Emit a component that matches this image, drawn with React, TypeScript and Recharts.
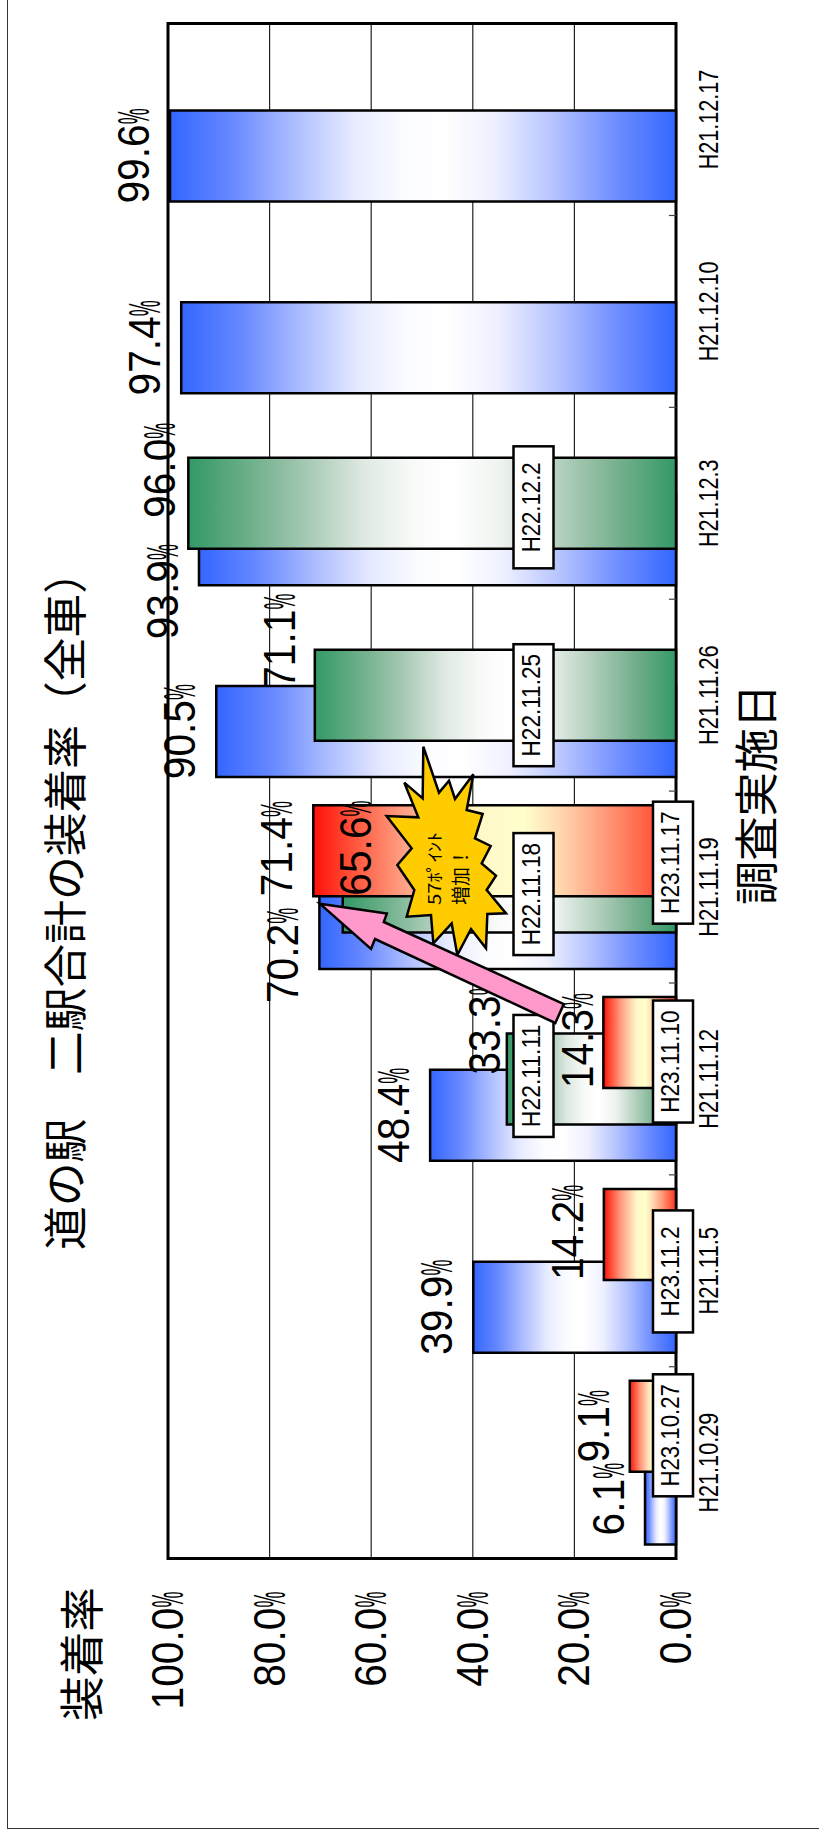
import { BarChart, Bar, XAxis, YAxis, CartesianGrid, LabelList, ReferenceArea, ReferenceLine } from 'recharts';

const PAGE_W = 819;
const PAGE_H = 1838;

const surveyDates = ['H21.10.29', 'H21.11.5', 'H21.11.12', 'H21.11.19', 'H21.11.26', 'H21.12.3', 'H21.12.10', 'H21.12.17'];
const rate2009 = [6.1, 39.9, 48.4, 70.2, 90.5, 93.9, 97.4, 99.6];
const rate2010 = [null, null, 33.3, 65.6, 71.1, 96.0, null, null];
const rate2011 = [9.1, 14.2, 14.3, 71.4, null, null, null, null];
const dates2010 = [null, null, 'H22.11.11', 'H22.11.18', 'H22.11.25', 'H22.12.2', null, null];
const dates2011 = ['H23.10.27', 'H23.11.2', 'H23.11.10', 'H23.11.17', null, null, null, null];
const rateTicks = [0, 20, 40, 60, 80, 100];

const titleText = '道の駅　二駅合計の装着率（全車）';
const rateTitle = '装着率';
const dateTitle = '調査実施日';
const calloutLines = ['57ﾎﾟｲﾝﾄ', '増加！'];

// hand placed labels in the original: shift along the band, gap above the bar end
const shift2009 = [0, 0, 0, 32, 0, 52, 0, 0];
const gap2009 = [21, 21, 21, 21, 21, 21, 21, 21];
const shift2010 = [0, 0, -52, -39, -54, -33, 0, 0];
const gap2010 = [0, 0, 7, -28, 20, 13, 0, 0];
const shift2011 = [0, -2, -2, -2, 0, 0, 0, 0];
const gap2011 = [21, 21, 10, 21, 0, 0, 0, 0];
const boxShift2010 = [0, 0, -3, 7, 10, 4, 0, 0];
const boxShift2011 = [9, 37, 19, 12, 0, 0, 0, 0];

const blueStops = [[0, '#3366ff'], [0.12, '#6688ff'], [0.24, '#aabbff'], [0.36, '#e6eaff'], [0.46, '#fbfcff'], [0.54, '#ffffff'], [0.64, '#eef0ff'], [0.76, '#b4c2ff'], [0.88, '#6f8eff'], [1, '#3366ff']];
const greenStops = [[0, '#339966'], [0.12, '#6aae88'], [0.24, '#a4c8b2'], [0.36, '#dfe9e2'], [0.46, '#f8faf8'], [0.54, '#ffffff'], [0.64, '#eef3ef'], [0.76, '#b4d0be'], [0.88, '#76b08e'], [1, '#339966']];
const redStops = [[0, '#ff1008'], [0.12, '#ff5a40'], [0.24, '#ff9c80'], [0.36, '#ffd0ac'], [0.46, '#fff8c8'], [0.58, '#ffffcc'], [0.68, '#ffd8b0'], [0.8, '#ff9c7c'], [0.9, '#ff6a4c'], [1, '#ff3020']];

const tableData = surveyDates.map((date, i) => ({
  date,
  rate2009: rate2009[i],
  rate2010: rate2010[i],
  rate2011: rate2011[i],
}));

const SANS = '"Liberation Sans", Arial, sans-serif';
const CJK = '"Noto Sans CJK JP", sans-serif';

const charUnits = (s: string) =>
  s.split('').reduce((sum, c) => sum + (c === '.' ? 0.278 : c === 'H' ? 0.722 : 0.556), 0);

// the source font has a tall, narrow look and a very thin percent sign
const PercentText = ({ x, y, digits, anchor = 'middle' }: any) => {
  const digitsW = charUnits(digits) * 40.7;
  const total = digitsW + 16;
  const start = anchor === 'end' ? x - total : x - total / 2;
  return (
    <text x={start} y={y} fontSize={45} fontFamily={SANS} fill="#000">
      <tspan textLength={digitsW} lengthAdjust="spacingAndGlyphs">{digits}</tspan>
      <tspan textLength={16} lengthAdjust="spacingAndGlyphs">%</tspan>
    </text>
  );
};

const RateTick = ({ x, y, payload }: any) => (
  <PercentText x={x} y={y + 15} digits={Number(payload.value).toFixed(1)} anchor="end" />
);

const DateTick = ({ x, payload }: any) => {
  const w = charUnits(payload.value) * 21.6;
  return (
    <text x={x - w / 2} y={718.4} fontSize={27.8} fontFamily={SANS} fill="#000" textLength={w} lengthAdjust="spacingAndGlyphs">
      {payload.value}
    </text>
  );
};

// LabelList skips empty values, so the row is found again from the value
const valueLabel = (rates: (number | null)[], shifts: number[], gaps: number[]) => (props: any) => {
  const { x, y, width, value } = props;
  if (value == null) return null;
  const row = rates.indexOf(value);
  return <PercentText x={x + width / 2 - shifts[row]} y={y - gaps[row]} digits={Number(value).toFixed(1)} />;
};

const dateBox = (rates: (number | null)[], labels: (string | null)[], shifts: number[], centerY: number) => (props: any) => {
  const { x, width, value } = props;
  const row = rates.indexOf(value);
  const text = labels[row];
  if (!text) return null;
  const cx = x + width / 2 - shifts[row];
  const w = charUnits(text) * 22.2;
  return (
    <g>
      <rect x={cx - 61} y={centerY - 20} width={122} height={40} fill="#fff" stroke="#000" strokeWidth={2.5} />
      <text x={cx - w / 2} y={centerY + 6} fontSize={26.2} fontFamily={SANS} fill="#000" textLength={w} lengthAdjust="spacingAndGlyphs">
        {text}
      </text>
    </g>
  );
};

const starPoints = [
  [160, 50], [207, 188], [237, 152], [255, 207], [310, 133], [290, 240], [338, 252], [315, 325],
  [362, 348], [335, 400], [378, 437], [350, 480], [408, 550], [352, 552], [348, 655], [303, 597],
  [262, 675], [245, 580], [190, 640], [183, 555], [110, 560], [133, 480], [82, 405], [125, 355],
  [50, 258], [145, 262], [103, 158], [158, 205],
].map(([px, py]) => `${370 + px / 3},${730 + py / 3}`).join(' ');

const arrowPoints = '319.8,903.7 386.8,913.6 383.8,922 563.8,1004 555.3,1023 375,939 371,949';

const UprightText = ({ x, y, size, length, font = CJK, children }: any) => (
  <text
    transform={`translate(${x},${y}) rotate(-90)`}
    fontSize={size}
    fontFamily={font}
    fill="#000"
    textLength={length}
    lengthAdjust="spacingAndGlyphs"
  >
    {children}
  </text>
);

const BarGradient = ({ id, stops }: any) => (
  <linearGradient id={id} x1="0" y1="0" x2="0" y2="1">
    {stops.map(([offset, color]: any) => (
      <stop key={offset} offset={offset} stopColor={color} />
    ))}
  </linearGradient>
);

const App = () => {
  return (
    <div style={{ position: 'absolute', left: 0, top: 0, width: PAGE_W, height: PAGE_H, overflow: 'hidden', background: '#fff' }}>
      <div style={{ position: 'absolute', left: 7, top: -10, width: 900, height: 1838, borderLeft: '1.5px solid #333', borderBottom: '1.5px solid #333' }} />
      <div
        style={{
          position: 'absolute',
          left: 0,
          top: 0,
          width: PAGE_H,
          height: PAGE_W,
          transformOrigin: '0 0',
          transform: `translate(0px, ${PAGE_H}px) rotate(-90deg)`,
        }}
      >
        <BarChart
          width={PAGE_H}
          height={PAGE_W}
          data={tableData}
          barSize={91}
          barGap={-54.6}
          margin={{ top: 168, right: 23.6, bottom: 113, left: 219.4 }}
        >
          <defs>
            <BarGradient id="fill2009" stops={blueStops} />
            <BarGradient id="fill2010" stops={greenStops} />
            <BarGradient id="fill2011" stops={redStops} />
          </defs>
          <CartesianGrid vertical={false} stroke="#222" strokeWidth={1.2} />
          <ReferenceArea y1={0} y2={100} fill="none" stroke="#000" strokeWidth={3} />
          {surveyDates.slice(1).map((d) => (
            <ReferenceLine
              key={d}
              position="start"
              stroke="#444"
              strokeWidth={1.2}
              segment={[{ x: d, y: 0 }, { x: d, y: 1.4 }]}
            />
          ))}
          <XAxis dataKey="date" height={30} axisLine={false} tickLine={false} tick={<DateTick />} interval={0} />
          <XAxis xAxisId="top" dataKey="date" hide />
          <YAxis
            domain={[0, 100]}
            ticks={rateTicks}
            width={60}
            axisLine={false}
            tickLine={false}
            tickSize={0}
            tickMargin={33}
            tick={<RateTick />}
            interval={0}
          />
          <Bar dataKey="rate2009" fill="url(#fill2009)" stroke="#000" strokeWidth={2.5} isAnimationActive={false} />
          <Bar dataKey="rate2010" fill="url(#fill2010)" stroke="#000" strokeWidth={2.5} isAnimationActive={false} />
          <Bar dataKey="rate2011" fill="url(#fill2011)" stroke="#000" strokeWidth={2.5} isAnimationActive={false} />
          <Bar xAxisId="top" dataKey="rate2009" fill="none" stroke="none" isAnimationActive={false}>
            <LabelList dataKey="rate2009" content={valueLabel(rate2009, shift2009, gap2009)} />
          </Bar>
          <Bar xAxisId="top" dataKey="rate2010" fill="none" stroke="none" isAnimationActive={false}>
            <LabelList dataKey="rate2010" content={valueLabel(rate2010, shift2010, gap2010)} />
            <LabelList dataKey="rate2010" content={dateBox(rate2010, dates2010, boxShift2010, 533.5)} />
          </Bar>
          <Bar xAxisId="top" dataKey="rate2011" fill="none" stroke="none" isAnimationActive={false}>
            <LabelList dataKey="rate2011" content={valueLabel(rate2011, shift2011, gap2011)} />
            <LabelList dataKey="rate2011" content={dateBox(rate2011, dates2011, boxShift2011, 673)} />
          </Bar>
        </BarChart>
      </div>
      <svg width={PAGE_W} height={PAGE_H} style={{ position: 'absolute', left: 0, top: 0 }}>
        <UprightText x={82} y={1250} size={44} length={700}>{titleText}</UprightText>
        <UprightText x={99} y={1721} size={45} length={134}>{rateTitle}</UprightText>
        <UprightText x={773} y={905} size={44} length={221}>{dateTitle}</UprightText>
        <polygon points={starPoints} fill="#ffcc00" stroke="#000" strokeWidth={2.5} />
        <UprightText x={441} y={905} size={17} length={73}>{calloutLines[0]}</UprightText>
        <UprightText x={468} y={905} size={19} length={57}>{calloutLines[1]}</UprightText>
        <polygon points={arrowPoints} fill="#ff99cc" stroke="#000" strokeWidth={2.5} />
      </svg>
    </div>
  );
};

export default App;
